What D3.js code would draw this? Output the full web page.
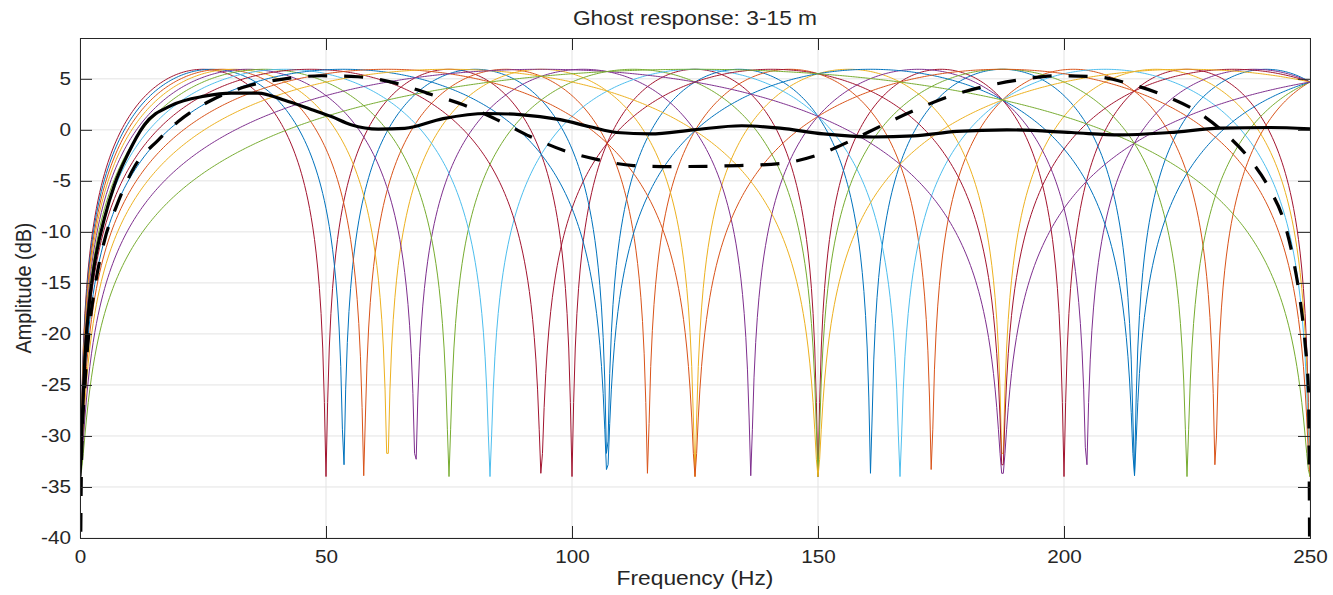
<!DOCTYPE html>
<html>
<head>
<meta charset="utf-8">
<script src="https://cdn.jsdelivr.net/npm/d3@7"></script>
<style>
  body { margin: 0; background: #fff; }
  text { font-family: "Liberation Sans", Arial, sans-serif; fill: #262626; }
</style>
</head>
<body>
<script>
// streamer depths (m), one ghost curve each, read from the notch positions
const depths = [15, 14, 13, 12, 11, 10, 9, 8, 7, 6, 5, 4, 3];
const lineColors = ['#A2142F', '#0072BD', '#D95319', '#EDB120', '#7E2F8E', '#77AC30', '#4DBEEE',
                    '#A2142F', '#0072BD', '#D95319', '#EDB120', '#7E2F8E', '#77AC30'];
const waterVelocity = 1500;   // m/s
const surfaceReflection = -0.98;
const freqStep = 1 / 3;       // Hz
const maxFreq = 250;

// black solid curve (average response)
const meanFreq = [0, 0.33, 1, 2, 3, 5, 7, 9.8, 13.1, 18.6, 25.3, 30.8, 36.2, 41.6, 47, 51.1, 55.1, 60.6, 66,
                  73.8, 82.7, 89.4, 97.6, 103.7, 109.1, 115.9, 124.7, 134.5, 142.3, 151.1, 161.2, 169.4,
                  178.2, 188.4, 201.5, 211.4, 221.5, 231.7, 241.9, 250];
const meanDb = [-34, -30, -22.3, -16.5, -13, -8.6, -5.4, -2.3, 0.5, 2.4, 3.3, 3.6, 3.6, 2.9, 2.0, 1.3, 0.5, 0.07, 0.15,
                1.1, 1.6, 1.5, 1.0, 0.3, -0.26, -0.4, 0, 0.4, 0.16, -0.4, -0.7, -0.6,
                -0.16, 0, -0.26, -0.5, -0.26, 0.16, 0.23, 0.1];

// black dashed curve
const dashFreq = [0, 0.33, 1, 2, 3, 5, 7.4, 11.1, 15.9, 19.9, 26.7, 34.1, 41.6, 49.1, 56.5, 64, 70.5, 77.9, 84.7,
                  91.5, 98.2, 105, 112.5, 120, 134, 142.3, 149.7, 156.5, 163.3, 170, 176.8, 184.3, 191, 198.5,
                  206.6, 213.4, 220.2, 227, 233.1, 237.8, 241.9, 244.6, 246.6, 248, 249, 249.7, 250];
const dashDb = [-50, -32, -25, -19, -15.5, -10.8, -7.5, -3.6, -1.0, 0.8, 2.9, 4.3, 5.0, 5.3, 5.2, 4.6, 3.6, 2.45, 1.0,
                -0.65, -2.0, -2.9, -3.5, -3.6, -3.5, -3.3, -2.5, -1.1, 0.5, 2.0, 3.3, 4.3, 4.9, 5.3,
                5.2, 4.5, 3.4, 1.8, -0.5, -2.9, -5.9, -8.8, -12.7, -16.7, -20.9, -25.8, -50];

const xTicks = [0, 50, 100, 150, 200, 250];
const yTicks = [-40, -35, -30, -25, -20, -15, -10, -5, 0, 5];

const width = 1333, height = 595;
const margin = {top: 38, right: 23, bottom: 57, left: 80};
const plotW = width - margin.left - margin.right;
const plotH = height - margin.top - margin.bottom;
const stretch = 1.15; // the text in the picture is a bit wide

const svg = d3.select('body').append('svg')
    .attr('width', width)
    .attr('height', height);

const x = d3.scaleLinear().domain([0, maxFreq]).range([0, plotW]);
const y = d3.scaleLinear().domain([-40, 9]).range([plotH, 0]);

const g = svg.append('g').attr('transform', `translate(${margin.left},${margin.top})`);

g.append('clipPath').attr('id', 'plotclip')
  .append('rect').attr('width', plotW).attr('height', plotH);

// grid
g.append('g').selectAll('line').data(xTicks).join('line')
    .attr('x1', d => x(d)).attr('x2', d => x(d))
    .attr('y1', 0).attr('y2', plotH)
    .attr('stroke', '#e3e3e3');
g.append('g').selectAll('line').data(yTicks).join('line')
    .attr('x1', 0).attr('x2', plotW)
    .attr('y1', d => y(d)).attr('y2', d => y(d))
    .attr('stroke', '#e3e3e3');

// ghost response of each depth
const freqs = d3.range(0, Math.round(maxFreq / freqStep) + 1).map(k => k * freqStep);
const ghostDb = (z, f) => {
  const theta = 2 * Math.PI * f * 2 * z / waterVelocity;
  const re = 1 + surfaceReflection * Math.cos(theta);
  const im = -surfaceReflection * Math.sin(theta);
  return 10 * Math.log10(re * re + im * im);
};

const line = d3.line().x(d => x(d[0])).y(d => y(d[1]));
const plot = g.append('g').attr('clip-path', 'url(#plotclip)');

depths.forEach((z, i) => {
  plot.append('path')
    .datum(freqs.map(f => [f, ghostDb(z, f)]))
    .attr('d', line)
    .attr('fill', 'none')
    .attr('stroke', lineColors[i])
    .attr('stroke-width', 1);
});

const smooth = d3.line().x(d => x(d[0])).y(d => y(d[1])).curve(d3.curveMonotoneX);

plot.append('path')
  .datum(meanFreq.map((f, i) => [f, meanDb[i]]))
  .attr('d', smooth)
  .attr('fill', 'none')
  .attr('stroke', '#000')
  .attr('stroke-width', 3.2);

plot.append('path')
  .datum(dashFreq.map((f, i) => [f, dashDb[i]]))
  .attr('d', smooth)
  .attr('fill', 'none')
  .attr('stroke', '#000')
  .attr('stroke-width', 3.2)
  .attr('stroke-dasharray', '19,17');

// axes: box with inward ticks on all four sides
const tickLen = 12;
const axisColor = '#262626';
const plainNum = d => String(d); // keep a hyphen for negatives, like the picture
const xAxisB = d3.axisBottom(x).tickValues(xTicks).tickSize(-tickLen).tickPadding(12).tickFormat(plainNum);
const xAxisT = d3.axisTop(x).tickValues(xTicks).tickSize(-tickLen).tickFormat('');
const yAxisL = d3.axisLeft(y).tickValues(yTicks).tickSize(-tickLen).tickPadding(9 / stretch).tickFormat(plainNum);
const yAxisR = d3.axisRight(y).tickValues(yTicks).tickSize(-tickLen).tickFormat('');

const styleAxis = sel => {
  sel.select('.domain').attr('stroke', axisColor);
  sel.selectAll('.tick line').attr('stroke', axisColor);
  sel.selectAll('.tick text').attr('fill', axisColor).style('font-size', '18px')
    .attr('font-family', '"Liberation Sans", Arial, sans-serif');
};

g.append('g').attr('transform', `translate(0,${plotH})`).call(xAxisB).call(styleAxis)
  .selectAll('.tick text').attr('transform', `scale(${stretch},1)`);
g.append('g').call(xAxisT).call(styleAxis);
g.append('g').call(yAxisL).call(styleAxis)
  .selectAll('.tick text').attr('transform', `scale(${stretch},1)`);
g.append('g').attr('transform', `translate(${plotW},0)`).call(yAxisR).call(styleAxis);

// labels
svg.append('text')
  .attr('transform', `translate(${margin.left + plotW / 2},25) scale(${stretch},1)`)
  .attr('text-anchor', 'middle')
  .style('font-size', '19.8px')
  .text('Ghost response: 3-15 m');

svg.append('text')
  .attr('transform', `translate(${margin.left + plotW / 2},585) scale(${stretch},1)`)
  .attr('text-anchor', 'middle')
  .style('font-size', '19.8px')
  .text('Frequency (Hz)');

svg.append('text')
  .attr('transform', `translate(31,${margin.top + plotH / 2}) scale(${stretch},1) rotate(-90)`)
  .attr('text-anchor', 'middle')
  .style('font-size', '19.8px')
  .text('Amplitude (dB)');
</script>
</body>
</html>
